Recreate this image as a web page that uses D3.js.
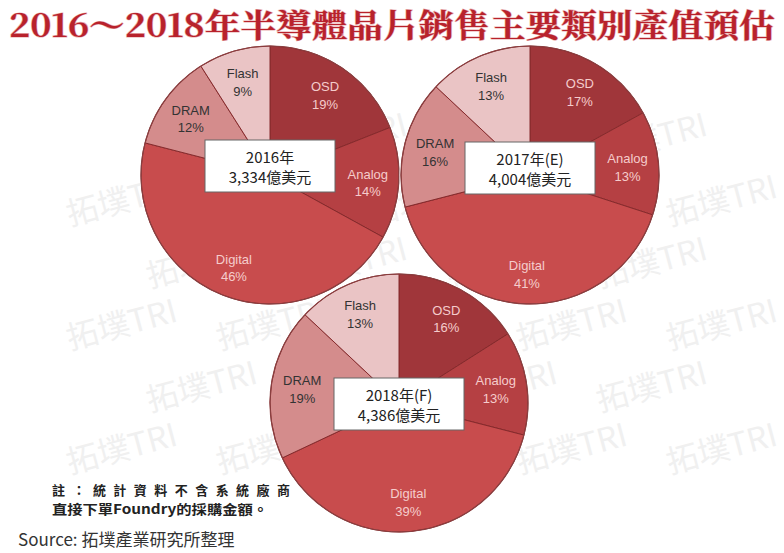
<!DOCTYPE html>
<html>
<head>
<meta charset="utf-8">
<script src="https://cdn.jsdelivr.net/npm/d3@7"></script>
<style>
  html, body { margin: 0; padding: 0; background: #fff; }
  svg { display: block; }
</style>
</head>
<body>
<svg id="chart" width="784" height="553"></svg>
<script>
// data
const categories = ["OSD", "Analog", "Digital", "DRAM", "Flash"];
const yearLabels = ["2016年", "2017年(E)", "2018年(F)"];
const totalLabels = ["3,334億美元", "4,004億美元", "4,386億美元"];
const share2016 = [19, 14, 46, 12, 9];
const share2017 = [17, 13, 41, 16, 13];
const share2018 = [16, 13, 39, 19, 13];

const width = 784, height = 553;
const svg = d3.select("#chart");

const sliceColor = d3.scaleOrdinal()
  .domain(categories)
  .range(["#a0363a", "#b54043", "#c84c4d", "#d48c8c", "#eac4c5"]);
const labelColor = d3.scaleOrdinal()
  .domain(categories)
  .range(["#f5cccc", "#f5cccc", "#f5cccc", "#333", "#333"]);

// faint background watermark, only whole copies kept
const wm = svg.append("g").attr("fill", "#f0f0f0").attr("font-family", "Noto Sans CJK TC, sans-serif")
  .attr("font-size", 32);
for (let row = 0; row < 10; row++) {
  for (let col = -1; col < 7; col++) {
    const x = col * 150 + (row % 2) * 70;
    const y = row * 62 + 40;
    wm.append("text")
      .attr("transform", `translate(${x},${y}) rotate(-15)`)
      .text("拓墣TRI");
  }
}
wm.selectAll("text").each(function() {
  const b = this.getBoundingClientRect();
  if (b.left < 0 || b.top < 44 || b.right > width || b.bottom > height - 70) d3.select(this).remove();
});

// title
svg.append("text")
  .attr("x", 9).attr("y", 37)
  .attr("font-family", "Noto Serif CJK TC, Noto Sans CJK TC, serif")
  .attr("font-weight", "bold")
  .attr("font-size", 32)
  .attr("fill", "#b8222c")
  .attr("textLength", 766)
  .attr("lengthAdjust", "spacingAndGlyphs")
  .style("paint-order", "stroke")
  .attr("stroke", "#e9b0b0").attr("stroke-width", 1.2)
  .text("2016～2018年半導體晶片銷售主要類別產值預估");

const radius = 129;
const pies = [
  { values: share2016, cx: 270, cy: 175, boxDy: -9 },
  { values: share2017, cx: 530, cy: 175, boxDy: -7 },
  { values: share2018, cx: 399, cy: 403, boxDy: 1 }
];

const pie = d3.pie().sort(null).value(d => d.v);
const arc = d3.arc().innerRadius(0).outerRadius(radius);
const labelArc = d3.arc().innerRadius(98).outerRadius(98);

pies.forEach((p, i) => {
  const g = svg.append("g").attr("transform", `translate(${p.cx},${p.cy})`);
  const arcs = pie(categories.map((c, k) => ({ c: c, v: p.values[k] })));

  g.append("circle").attr("r", radius + 1.5).attr("fill", "#fff");

  g.selectAll("path")
    .data(arcs)
    .join("path")
    .attr("d", arc)
    .attr("fill", d => sliceColor(d.data.c))
    .attr("stroke", "#862a2c")
    .attr("stroke-width", 1);

  g.append("circle").attr("r", radius).attr("fill", "none")
    .attr("stroke", "#8a3f40").attr("stroke-width", 1.2);

  const lbl = g.selectAll("text.lbl")
    .data(arcs)
    .join("text")
    .attr("class", "lbl")
    .attr("transform", d => `translate(${labelArc.centroid(d)})`)
    .attr("text-anchor", "middle")
    .attr("font-family", "Liberation Sans, Arial, sans-serif")
    .attr("font-size", 13)
    .attr("fill", d => labelColor(d.data.c));
  lbl.append("tspan").attr("x", 0).attr("dy", "-0.2em").text(d => d.data.c);
  lbl.append("tspan").attr("x", 0).attr("dy", "1.35em").text(d => d.data.v + "%");

  // centre box
  const box = g.append("g").attr("transform", `translate(0,${p.boxDy})`);
  box.append("rect")
    .attr("x", -65).attr("y", -26).attr("width", 130).attr("height", 52)
    .attr("fill", "#fff").attr("stroke", "#666").attr("stroke-width", 1);
  const bt = box.append("text")
    .attr("text-anchor", "middle")
    .attr("font-family", "Noto Sans CJK TC, sans-serif")
    .attr("font-size", 15)
    .attr("fill", "#222");
  bt.append("tspan").attr("x", 0).attr("y", -3).text(yearLabels[i]);
  bt.append("tspan").attr("x", 0).attr("y", 17).text(totalLabels[i]);
});

// note
const note = svg.append("g")
  .attr("font-family", "Noto Sans CJK TC, sans-serif")
  .attr("font-weight", "bold")
  .attr("font-size", 13)
  .attr("fill", "#222");
note.append("text").attr("x", 52).attr("y", 495)
  .attr("textLength", 238).attr("lengthAdjust", "spacing")
  .text("註：統計資料不含系統廠商");
note.append("text").attr("x", 52).attr("y", 514)
  .attr("textLength", 216).attr("lengthAdjust", "spacingAndGlyphs")
  .text("直接下單Foundry的採購金額。");

svg.append("text")
  .attr("x", 18).attr("y", 546)
  .attr("font-family", "Noto Sans CJK TC, sans-serif")
  .attr("font-size", 17)
  .attr("fill", "#333")
  .text("Source: 拓墣產業研究所整理");
</script>
</body>
</html>
